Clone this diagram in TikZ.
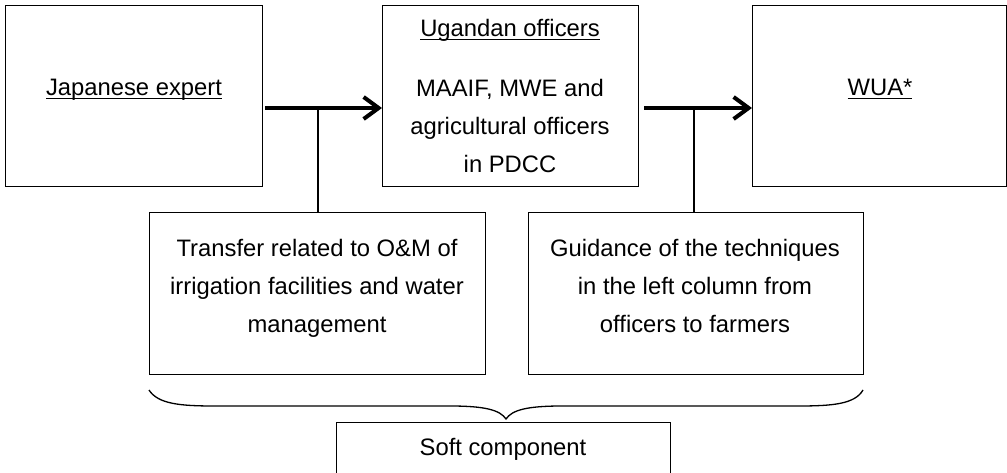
\documentclass[tikz,border=0pt]{standalone}
\usepackage{fontspec}
\setmainfont{Liberation Sans}
\usetikzlibrary{arrows.meta}
\newcommand\myul[1]{\setbox0\hbox{#1}\rlap{\rule[-3pt]{\wd0}{1.4pt}}\box0}
\tikzset{
  box/.style={draw, line width=1.3pt, rectangle, anchor=north west, inner sep=0pt},
  txt/.style={align=center, inner sep=0pt, font=\fontsize{23.8}{38}\selectfont},
  bigarrow/.style={line width=4pt, -{Straight Barb[length=15pt,width=22pt,line width=4pt]}},
  link/.style={line width=1.3pt},
}
\begin{document}
\begin{tikzpicture}[x=1pt,y=-1pt]
\clip (0,0) rectangle (1007,473);
\fill[white] (0,0) rectangle (1007,473);
% boxes
\node[box, minimum width=257pt, minimum height=181pt] (A) at (5,5) {};
\node[box, minimum width=256pt, minimum height=181pt] (B) at (382,5) {};
\node[box, minimum width=254pt, minimum height=181pt] (C) at (752,5) {};
\node[box, minimum width=336pt, minimum height=162pt] (D) at (149,212) {};
\node[box, minimum width=335pt, minimum height=162pt] (E) at (528,212) {};
\node[box, minimum width=334pt, minimum height=90pt] (F) at (336,422) {};
% texts
\node[txt, anchor=base] (tA) at (134,96) {\myul{Japanese expert}};
\node[txt, anchor=base] (tB1) at (510,37) {\myul{Ugandan officers}};
\node[txt] (tB2) at (510,126) {MAAIF, MWE and\\agricultural officers\\in PDCC};
\node[txt, anchor=base] (tC) at (880,96) {\myul{WUA*}};
\node[txt] (tD) at (317,288) {Transfer related to O\&M of\\irrigation facilities and water\\management};
\node[txt] (tE) at (695,286) {Guidance of the techniques\\in the left column from\\officers to farmers};
\node[txt, anchor=base] (tF) at (503,455) {Soft component};
% connectors
\coordinate (m1) at (318,108);
\coordinate (m2) at (694,108);
\draw[bigarrow] ([xshift=2pt]A.east |- m1) -- (B.west |- m1);
\draw[bigarrow] ([xshift=5pt]B.east |- m2) -- (C.west |- m2);
\draw[link] (m1) -- (m1 |- D.north);
\draw[link] (m2) -- (m2 |- E.north);
% brace
\draw[link] (149,390) .. controls (158,404) and (180,406) .. (215,406)
  -- (450,406) .. controls (485,406) and (500,410) .. (506,419)
  .. controls (512,410) and (527,406) .. (562,406)
  -- (798,406) .. controls (833,406) and (855,404) .. (863,390);
\end{tikzpicture}
\end{document}
